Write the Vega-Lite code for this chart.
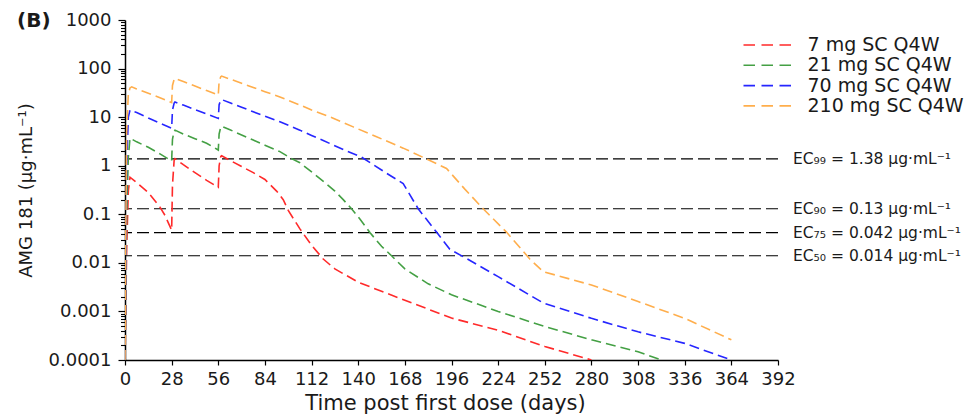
{
  "$schema": "https://vega.github.io/schema/vega-lite/v6.json",
  "width": 653,
  "height": 340,
  "autosize": "none",
  "padding": {"left": 125, "top": 20, "right": 192, "bottom": 54},
  "background": "white",
  "title": {"text": "(B)", "anchor": "start", "frame": "group", "orient": "top", "offset": 0, "dx": -108, "dy": 36, "baseline": "alphabetic", "fontSize": 20, "fontWeight": "bold", "font": "DejaVu Sans", "color": "#1a1a1a"},
  "config": {
    "font": "DejaVu Sans",
    "view": {"stroke": null},
    "axis": {"domainColor": "black", "tickColor": "black", "labelColor": "#1a1a1a", "titleColor": "#1a1a1a", "grid": false, "labelFontSize": 18, "titleFontWeight": "normal", "domainWidth": 1.5, "tickWidth": 1.2, "labelFlush": false, "labelOverlap": false, "labelBound": false}
  },
  "resolve": {"axis": {"y": "independent"}},
  "layer": [
    {
      "data": {"values": [
        {"label": "EC₉₉ = 1.38 μg·mL⁻¹", "value": 1.38},
        {"label": "EC₉₀ = 0.13 μg·mL⁻¹", "value": 0.13},
        {"label": "EC₇₅ = 0.042 μg·mL⁻¹", "value": 0.042},
        {"label": "EC₅₀ = 0.014 μg·mL⁻¹", "value": 0.014}
      ]},
      "mark": {"type": "rule", "color": "black", "strokeDash": [12, 5], "strokeWidth": 1.2},
      "encoding": {
        "y": {"field": "value", "type": "quantitative", "scale": {"type": "log", "domain": [0.0001, 1000], "nice": false},
          "axis": {"orient": "left", "values": [0.0002,0.0003,0.0004,0.0005,0.0006,0.0007,0.0008,0.0009,0.002,0.003,0.004,0.005,0.006,0.007,0.008,0.009,0.02,0.03,0.04,0.05,0.06,0.07,0.08,0.09,0.2,0.3,0.4,0.5,0.6,0.7,0.8,0.9,2,3,4,5,6,7,8,9,20,30,40,50,60,70,80,90,200,300,400,500,600,700,800,900],
            "labels": false, "domain": false, "title": null, "tickSize": 4.5, "tickWidth": 1.1}}
      }
    },
    {
      "data": {"values": [
        {"label": "EC₉₉ = 1.38 μg·mL⁻¹", "value": 1.38},
        {"label": "EC₉₀ = 0.13 μg·mL⁻¹", "value": 0.13},
        {"label": "EC₇₅ = 0.042 μg·mL⁻¹", "value": 0.042},
        {"label": "EC₅₀ = 0.014 μg·mL⁻¹", "value": 0.014}
      ]},
      "mark": {"type": "text", "align": "left", "baseline": "middle", "dx": 15, "fontSize": 15.5, "color": "#1a1a1a"},
      "encoding": {
        "x": {"value": "width"},
        "y": {"field": "value", "type": "quantitative", "scale": {"type": "log", "domain": [0.0001, 1000], "nice": false}, "axis": null},
        "text": {"field": "label"}
      }
    },
    {
      "data": {"values": [
        {"dose": "7 mg SC Q4W", "day": 0, "conc": 0.0001},
        {"dose": "7 mg SC Q4W", "day": 1, "conc": 0.02},
        {"dose": "7 mg SC Q4W", "day": 2, "conc": 0.3},
        {"dose": "7 mg SC Q4W", "day": 3, "conc": 0.58},
        {"dose": "7 mg SC Q4W", "day": 7, "conc": 0.45},
        {"dose": "7 mg SC Q4W", "day": 14, "conc": 0.28},
        {"dose": "7 mg SC Q4W", "day": 21, "conc": 0.14},
        {"dose": "7 mg SC Q4W", "day": 24, "conc": 0.095},
        {"dose": "7 mg SC Q4W", "day": 28, "conc": 0.047},
        {"dose": "7 mg SC Q4W", "day": 28.5, "conc": 0.4},
        {"dose": "7 mg SC Q4W", "day": 29.5, "conc": 1.3},
        {"dose": "7 mg SC Q4W", "day": 30, "conc": 1.4},
        {"dose": "7 mg SC Q4W", "day": 35, "conc": 1.05},
        {"dose": "7 mg SC Q4W", "day": 42, "conc": 0.72},
        {"dose": "7 mg SC Q4W", "day": 49, "conc": 0.5},
        {"dose": "7 mg SC Q4W", "day": 56, "conc": 0.36},
        {"dose": "7 mg SC Q4W", "day": 56.5, "conc": 1.0},
        {"dose": "7 mg SC Q4W", "day": 57.5, "conc": 1.55},
        {"dose": "7 mg SC Q4W", "day": 58, "conc": 1.6},
        {"dose": "7 mg SC Q4W", "day": 63, "conc": 1.29},
        {"dose": "7 mg SC Q4W", "day": 70, "conc": 0.96},
        {"dose": "7 mg SC Q4W", "day": 77, "conc": 0.72},
        {"dose": "7 mg SC Q4W", "day": 84, "conc": 0.52},
        {"dose": "7 mg SC Q4W", "day": 91, "conc": 0.3},
        {"dose": "7 mg SC Q4W", "day": 95, "conc": 0.2},
        {"dose": "7 mg SC Q4W", "day": 98, "conc": 0.12},
        {"dose": "7 mg SC Q4W", "day": 105, "conc": 0.05},
        {"dose": "7 mg SC Q4W", "day": 112, "conc": 0.023},
        {"dose": "7 mg SC Q4W", "day": 119, "conc": 0.012},
        {"dose": "7 mg SC Q4W", "day": 126, "conc": 0.0075},
        {"dose": "7 mg SC Q4W", "day": 140, "conc": 0.004},
        {"dose": "7 mg SC Q4W", "day": 154, "conc": 0.0026},
        {"dose": "7 mg SC Q4W", "day": 168, "conc": 0.0017},
        {"dose": "7 mg SC Q4W", "day": 196, "conc": 0.00073},
        {"dose": "7 mg SC Q4W", "day": 224, "conc": 0.00041},
        {"dose": "7 mg SC Q4W", "day": 252, "conc": 0.00019},
        {"dose": "7 mg SC Q4W", "day": 280, "conc": 0.0001},

        {"dose": "21 mg SC Q4W", "day": 0, "conc": 0.0001},
        {"dose": "21 mg SC Q4W", "day": 1, "conc": 0.1},
        {"dose": "21 mg SC Q4W", "day": 2, "conc": 1.5},
        {"dose": "21 mg SC Q4W", "day": 3, "conc": 3.7},
        {"dose": "21 mg SC Q4W", "day": 7, "conc": 3.1},
        {"dose": "21 mg SC Q4W", "day": 14, "conc": 2.4},
        {"dose": "21 mg SC Q4W", "day": 21, "conc": 1.75},
        {"dose": "21 mg SC Q4W", "day": 28, "conc": 1.25},
        {"dose": "21 mg SC Q4W", "day": 28.5, "conc": 3.5},
        {"dose": "21 mg SC Q4W", "day": 29.5, "conc": 5.2},
        {"dose": "21 mg SC Q4W", "day": 30, "conc": 5.4},
        {"dose": "21 mg SC Q4W", "day": 35, "conc": 4.5},
        {"dose": "21 mg SC Q4W", "day": 42, "conc": 3.6},
        {"dose": "21 mg SC Q4W", "day": 49, "conc": 2.9},
        {"dose": "21 mg SC Q4W", "day": 56, "conc": 2.1},
        {"dose": "21 mg SC Q4W", "day": 56.5, "conc": 4.5},
        {"dose": "21 mg SC Q4W", "day": 57.5, "conc": 6.3},
        {"dose": "21 mg SC Q4W", "day": 58, "conc": 6.5},
        {"dose": "21 mg SC Q4W", "day": 63, "conc": 5.5},
        {"dose": "21 mg SC Q4W", "day": 70, "conc": 4.3},
        {"dose": "21 mg SC Q4W", "day": 77, "conc": 3.37},
        {"dose": "21 mg SC Q4W", "day": 84, "conc": 2.65},
        {"dose": "21 mg SC Q4W", "day": 93, "conc": 1.95},
        {"dose": "21 mg SC Q4W", "day": 100, "conc": 1.4},
        {"dose": "21 mg SC Q4W", "day": 105, "conc": 1.15},
        {"dose": "21 mg SC Q4W", "day": 113, "conc": 0.7},
        {"dose": "21 mg SC Q4W", "day": 120, "conc": 0.45},
        {"dose": "21 mg SC Q4W", "day": 126, "conc": 0.3},
        {"dose": "21 mg SC Q4W", "day": 131, "conc": 0.2},
        {"dose": "21 mg SC Q4W", "day": 136, "conc": 0.13},
        {"dose": "21 mg SC Q4W", "day": 141, "conc": 0.08},
        {"dose": "21 mg SC Q4W", "day": 147, "conc": 0.042},
        {"dose": "21 mg SC Q4W", "day": 154, "conc": 0.022},
        {"dose": "21 mg SC Q4W", "day": 160, "conc": 0.014},
        {"dose": "21 mg SC Q4W", "day": 168, "conc": 0.0075},
        {"dose": "21 mg SC Q4W", "day": 182, "conc": 0.0037},
        {"dose": "21 mg SC Q4W", "day": 196, "conc": 0.0022},
        {"dose": "21 mg SC Q4W", "day": 224, "conc": 0.001},
        {"dose": "21 mg SC Q4W", "day": 252, "conc": 0.00049},
        {"dose": "21 mg SC Q4W", "day": 280, "conc": 0.00026},
        {"dose": "21 mg SC Q4W", "day": 308, "conc": 0.000148},
        {"dose": "21 mg SC Q4W", "day": 322, "conc": 0.0001},

        {"dose": "70 mg SC Q4W", "day": 0, "conc": 0.0001},
        {"dose": "70 mg SC Q4W", "day": 0.5, "conc": 0.01},
        {"dose": "70 mg SC Q4W", "day": 1, "conc": 1},
        {"dose": "70 mg SC Q4W", "day": 2, "conc": 10},
        {"dose": "70 mg SC Q4W", "day": 3, "conc": 14},
        {"dose": "70 mg SC Q4W", "day": 7, "conc": 12.5},
        {"dose": "70 mg SC Q4W", "day": 14, "conc": 9.6},
        {"dose": "70 mg SC Q4W", "day": 21, "conc": 7.5},
        {"dose": "70 mg SC Q4W", "day": 28, "conc": 5.9},
        {"dose": "70 mg SC Q4W", "day": 28.5, "conc": 14},
        {"dose": "70 mg SC Q4W", "day": 29.5, "conc": 19.5},
        {"dose": "70 mg SC Q4W", "day": 30, "conc": 20.5},
        {"dose": "70 mg SC Q4W", "day": 35, "conc": 17.7},
        {"dose": "70 mg SC Q4W", "day": 42, "conc": 14.3},
        {"dose": "70 mg SC Q4W", "day": 49, "conc": 11.6},
        {"dose": "70 mg SC Q4W", "day": 56, "conc": 9.4},
        {"dose": "70 mg SC Q4W", "day": 56.5, "conc": 18},
        {"dose": "70 mg SC Q4W", "day": 57.5, "conc": 22.5},
        {"dose": "70 mg SC Q4W", "day": 58, "conc": 23},
        {"dose": "70 mg SC Q4W", "day": 63, "conc": 19.8},
        {"dose": "70 mg SC Q4W", "day": 70, "conc": 16},
        {"dose": "70 mg SC Q4W", "day": 77, "conc": 12.9},
        {"dose": "70 mg SC Q4W", "day": 84, "conc": 10.5},
        {"dose": "70 mg SC Q4W", "day": 93, "conc": 8},
        {"dose": "70 mg SC Q4W", "day": 105, "conc": 5.4},
        {"dose": "70 mg SC Q4W", "day": 112, "conc": 4.2},
        {"dose": "70 mg SC Q4W", "day": 119, "conc": 3.3},
        {"dose": "70 mg SC Q4W", "day": 125, "conc": 2.67},
        {"dose": "70 mg SC Q4W", "day": 133, "conc": 2.0},
        {"dose": "70 mg SC Q4W", "day": 142, "conc": 1.5},
        {"dose": "70 mg SC Q4W", "day": 149, "conc": 1.05},
        {"dose": "70 mg SC Q4W", "day": 157, "conc": 0.7},
        {"dose": "70 mg SC Q4W", "day": 167, "conc": 0.43},
        {"dose": "70 mg SC Q4W", "day": 176, "conc": 0.13},
        {"dose": "70 mg SC Q4W", "day": 187, "conc": 0.043},
        {"dose": "70 mg SC Q4W", "day": 195, "conc": 0.019},
        {"dose": "70 mg SC Q4W", "day": 205, "conc": 0.0123},
        {"dose": "70 mg SC Q4W", "day": 224, "conc": 0.0052},
        {"dose": "70 mg SC Q4W", "day": 251, "conc": 0.0015},
        {"dose": "70 mg SC Q4W", "day": 280, "conc": 0.00072},
        {"dose": "70 mg SC Q4W", "day": 308, "conc": 0.00038},
        {"dose": "70 mg SC Q4W", "day": 336, "conc": 0.00022},
        {"dose": "70 mg SC Q4W", "day": 364, "conc": 0.0001},

        {"dose": "210 mg SC Q4W", "day": 0, "conc": 0.0001},
        {"dose": "210 mg SC Q4W", "day": 0.5, "conc": 0.05},
        {"dose": "210 mg SC Q4W", "day": 1, "conc": 5},
        {"dose": "210 mg SC Q4W", "day": 2, "conc": 30},
        {"dose": "210 mg SC Q4W", "day": 3, "conc": 40},
        {"dose": "210 mg SC Q4W", "day": 4, "conc": 42},
        {"dose": "210 mg SC Q4W", "day": 7, "conc": 38},
        {"dose": "210 mg SC Q4W", "day": 14, "conc": 31},
        {"dose": "210 mg SC Q4W", "day": 21, "conc": 25},
        {"dose": "210 mg SC Q4W", "day": 28, "conc": 20},
        {"dose": "210 mg SC Q4W", "day": 28.5, "conc": 45},
        {"dose": "210 mg SC Q4W", "day": 29.5, "conc": 60},
        {"dose": "210 mg SC Q4W", "day": 30, "conc": 63},
        {"dose": "210 mg SC Q4W", "day": 35, "conc": 54},
        {"dose": "210 mg SC Q4W", "day": 42, "conc": 43.7},
        {"dose": "210 mg SC Q4W", "day": 49, "conc": 35.3},
        {"dose": "210 mg SC Q4W", "day": 56, "conc": 28.5},
        {"dose": "210 mg SC Q4W", "day": 56.5, "conc": 55},
        {"dose": "210 mg SC Q4W", "day": 57.5, "conc": 68},
        {"dose": "210 mg SC Q4W", "day": 58, "conc": 70},
        {"dose": "210 mg SC Q4W", "day": 63, "conc": 60.8},
        {"dose": "210 mg SC Q4W", "day": 70, "conc": 49.8},
        {"dose": "210 mg SC Q4W", "day": 77, "conc": 40.8},
        {"dose": "210 mg SC Q4W", "day": 84, "conc": 33.5},
        {"dose": "210 mg SC Q4W", "day": 93, "conc": 26},
        {"dose": "210 mg SC Q4W", "day": 105, "conc": 17.8},
        {"dose": "210 mg SC Q4W", "day": 112, "conc": 14},
        {"dose": "210 mg SC Q4W", "day": 125, "conc": 9.5},
        {"dose": "210 mg SC Q4W", "day": 137, "conc": 6.3},
        {"dose": "210 mg SC Q4W", "day": 151, "conc": 3.95},
        {"dose": "210 mg SC Q4W", "day": 167, "conc": 2.3},
        {"dose": "210 mg SC Q4W", "day": 181, "conc": 1.38},
        {"dose": "210 mg SC Q4W", "day": 193, "conc": 0.88},
        {"dose": "210 mg SC Q4W", "day": 204, "conc": 0.33},
        {"dose": "210 mg SC Q4W", "day": 215, "conc": 0.13},
        {"dose": "210 mg SC Q4W", "day": 229, "conc": 0.043},
        {"dose": "210 mg SC Q4W", "day": 243, "conc": 0.012},
        {"dose": "210 mg SC Q4W", "day": 251, "conc": 0.0066},
        {"dose": "210 mg SC Q4W", "day": 280, "conc": 0.0035},
        {"dose": "210 mg SC Q4W", "day": 308, "conc": 0.0016},
        {"dose": "210 mg SC Q4W", "day": 336, "conc": 0.00072},
        {"dose": "210 mg SC Q4W", "day": 364, "conc": 0.00026}
      ]},
      "mark": {"type": "line", "strokeDash": [10, 5], "strokeWidth": 1.6, "clip": true},
      "encoding": {
        "x": {"field": "day", "type": "quantitative", "scale": {"domain": [0, 392], "nice": false},
          "axis": {"values": [0,28,56,84,112,140,168,196,224,252,280,308,336,364,392], "format": "d", "tickSize": 5, "labelPadding": 5,
            "title": "Time post first dose (days)", "titleFontSize": 21, "titleX": 320, "titleY": 49, "titleBaseline": "alphabetic", "titleAlign": "center"}},
        "y": {"field": "conc", "type": "quantitative", "scale": {"type": "log", "domain": [0.0001, 1000], "nice": false},
          "axis": {"orient": "left", "values": [0.0001, 0.001, 0.01, 0.1, 1, 10, 100, 1000], "format": "~g", "tickSize": 7, "labelPadding": 7,
            "title": "AMG 181 (μg·mL⁻¹)", "titleFontSize": 18, "titleX": -99, "titleY": 170, "titleAngle": -90, "titleBaseline": "middle", "titleAlign": "center"}},
        "color": {"field": "dose", "type": "nominal",
          "scale": {"domain": ["7 mg SC Q4W", "21 mg SC Q4W", "70 mg SC Q4W", "210 mg SC Q4W"], "range": ["#ff2a2a", "#44a044", "#2626ff", "#ffae4c"]},
          "legend": {"title": null, "orient": "none", "legendX": 633, "legendY": 15.5, "symbolType": "M-3,0H3", "symbolSize": 256, "symbolStrokeWidth": 1.6, "symbolDash": [11.5, 6.5], "symbolFillColor": "transparent",
            "labelFontSize": 19, "labelOffset": 30.5, "rowPadding": 0.3, "padding": 0, "labelColor": "#1a1a1a", "labelLimit": 300}}
      }
    }
  ]
}
